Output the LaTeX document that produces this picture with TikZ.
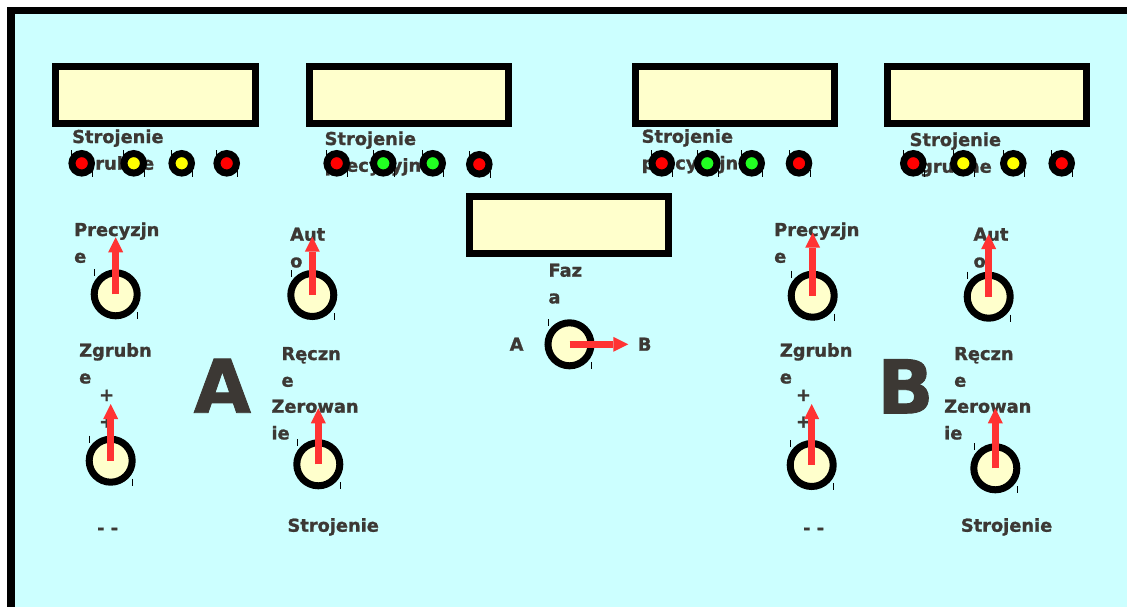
\documentclass[tikz,border=0pt]{standalone}
\usepackage{fontspec}
\setmainfont{DejaVu Sans}
\newfontfamily\heavyfont{DejaVu Sans Bold}[FakeBold=1.2]
\usetikzlibrary{arrows.meta}
\definecolor{panel}{RGB}{204,255,255}
\definecolor{screen}{RGB}{255,255,204}
\definecolor{ink}{RGB}{60,56,52}
\definecolor{arrowred}{RGB}{255,51,51}
\definecolor{ledred}{RGB}{255,0,0}
\definecolor{ledyellow}{RGB}{255,255,0}
\definecolor{ledgreen}{RGB}{34,255,34}
\newcommand{\twol}[1]{\parbox[t]{6cm}{\raggedright #1}}
\begin{document}
\begin{tikzpicture}[x=1pt,y=-1pt,
  screenbox/.style={draw=black,line width=7pt,fill=screen,rectangle,inner sep=0pt,minimum width=199pt,minimum height=57pt},
  lbl/.style={text=ink,font=\fontsize{17.8}{26.7}\selectfont\heavyfont,inner sep=0pt,anchor=base west},
  biglbl/.style={text=ink,font=\fontsize{74}{80}\selectfont\heavyfont,inner sep=0pt,anchor=base west},
  knob/.style={circle,draw=black,line width=7pt,fill=screen,minimum size=43pt,inner sep=0pt},
  led/.style={circle,draw=black,line width=7pt,minimum size=19.5pt,inner sep=0pt},
  tick/.style={draw=black,line width=0.8pt},
  knobarrow/.style={draw=arrowred,line width=7pt,-{Triangle[length=15pt,width=15pt,line width=0pt]}}]
\clip (0,0) rectangle (1127,606);
% panel
\path[fill=panel] (11.2,10.3) rectangle (1150,630);
\draw[line width=7.5pt] (11.2,630) -- (11.2,10.3) -- (1150,10.3);
% screens
\node[screenbox,minimum width=200pt] (s1) at (155.5,95) {};
\node[screenbox] (s2) at (409.4,95) {};
\node[screenbox] (s3) at (734.7,95) {};
\node[screenbox] (s4) at (987,95) {};
\node[screenbox] (s5) at (568.7,225.3) {};
% screen labels
\node[lbl] (t1) at (72,143) {\twol{Strojenie\\zgrubne}};
\node[lbl] (t2) at (324.5,145) {\twol{Strojenie\\precyzyjne}};
\node[lbl] (t3) at (641.5,142.7) {\twol{Strojenie\\precyzyjne}};
\node[lbl] (t4) at (909.5,146) {\twol{Strojenie\\zgrubne}};
% LEDs
\foreach \x/\y/\c [count=\i] in {81.7/163.3/ledred,133.7/163.3/ledyellow,181.7/163.3/ledyellow,226.7/163.3/ledred,
  336.7/163.3/ledred,383.3/163.3/ledgreen,432.7/163.3/ledgreen,479.3/164.3/ledred,
  661.7/163.3/ledred,707.3/163.3/ledgreen,751.7/163.3/ledgreen,799/163.3/ledred,
  913.3/163.3/ledred,963.3/163.3/ledyellow,1013.3/163.3/ledyellow,1061.7/163.3/ledred}{
  \node[led,fill=\c] (led\i) at (\x,\y) {};
  \draw[tick] (led\i.center) ++(-10,-13) -- ++(0,7) (led\i.center) ++(11,7) -- ++(0,7);
}
% knob labels, left side
\node[lbl] (p1) at (74,236) {\twol{Precyzjn\\e}};
\node[lbl] (a1) at (290,240.7) {\twol{Aut\\o}};
\node[lbl] (z1) at (79,356.7) {\twol{Zgrubn\\e}};
\node[lbl] (r1) at (281.3,360) {\twol{Ręczn\\e}};
\node[lbl] (w1) at (271.3,412.7) {\twol{Zerowan\\ie}};
\node[lbl] (plus1) at (99,401) {\twol{+\\+}};
\node[lbl] (m1) at (97,534) {- -};
\node[lbl] (st1) at (287.3,531.7) {Strojenie};
\node[biglbl] (bigA) at (193.5,412.7) {A};
% centre labels
\node[lbl] (faz) at (548.3,276.7) {\twol{Faz\\a}};
\node[lbl] (la) at (509.5,350.7) {A};
\node[lbl] (lb) at (637.7,350.7) {B};
% knob labels, right side
\node[lbl] (p2) at (774,236) {\twol{Precyzjn\\e}};
\node[lbl] (a2) at (973.3,240.7) {\twol{Aut\\o}};
\node[lbl] (z2) at (779.7,356.7) {\twol{Zgrubn\\e}};
\node[lbl] (r2) at (954,360) {\twol{Ręczn\\e}};
\node[lbl] (w2) at (944,412.7) {\twol{Zerowan\\ie}};
\node[lbl] (plus2) at (795.8,401) {\twol{+\\+}};
\node[lbl] (m2) at (803,534) {- -};
\node[lbl] (st2) at (960.7,531.7) {Strojenie};
\node[biglbl] (bigB) at (877,413.3) {B};
% knobs
\foreach \x/\y [count=\i] in {115.7/294.3,312.3/295,110.7/460.7,318.3/464.3,569.5/344.3,812.7/295.7,988.7/296.7,811.7/465,995.3/468.3}{
  \node[knob] (k\i) at (\x,\y) {};
  \draw[tick] (k\i.center) ++(-21,-25) -- ++(0,7) (k\i.center) ++(22,18) -- ++(0,7);
}
% arrows
\coordinate (k1t) at (115.7,237.3);
\coordinate (k2t) at (312.3,236.7);
\coordinate (k3t) at (110.7,404);
\coordinate (k4t) at (318.3,408.3);
\coordinate (k5t) at (628.3,344.3);
\coordinate (k6t) at (812.7,232.7);
\coordinate (k7t) at (988.7,234);
\coordinate (k8t) at (811.7,404);
\coordinate (k9t) at (995.3,408.3);
\foreach \i in {1,...,9}{
  \draw[knobarrow] (k\i.center) -- (k\i t);
}
\end{tikzpicture}
\end{document}
